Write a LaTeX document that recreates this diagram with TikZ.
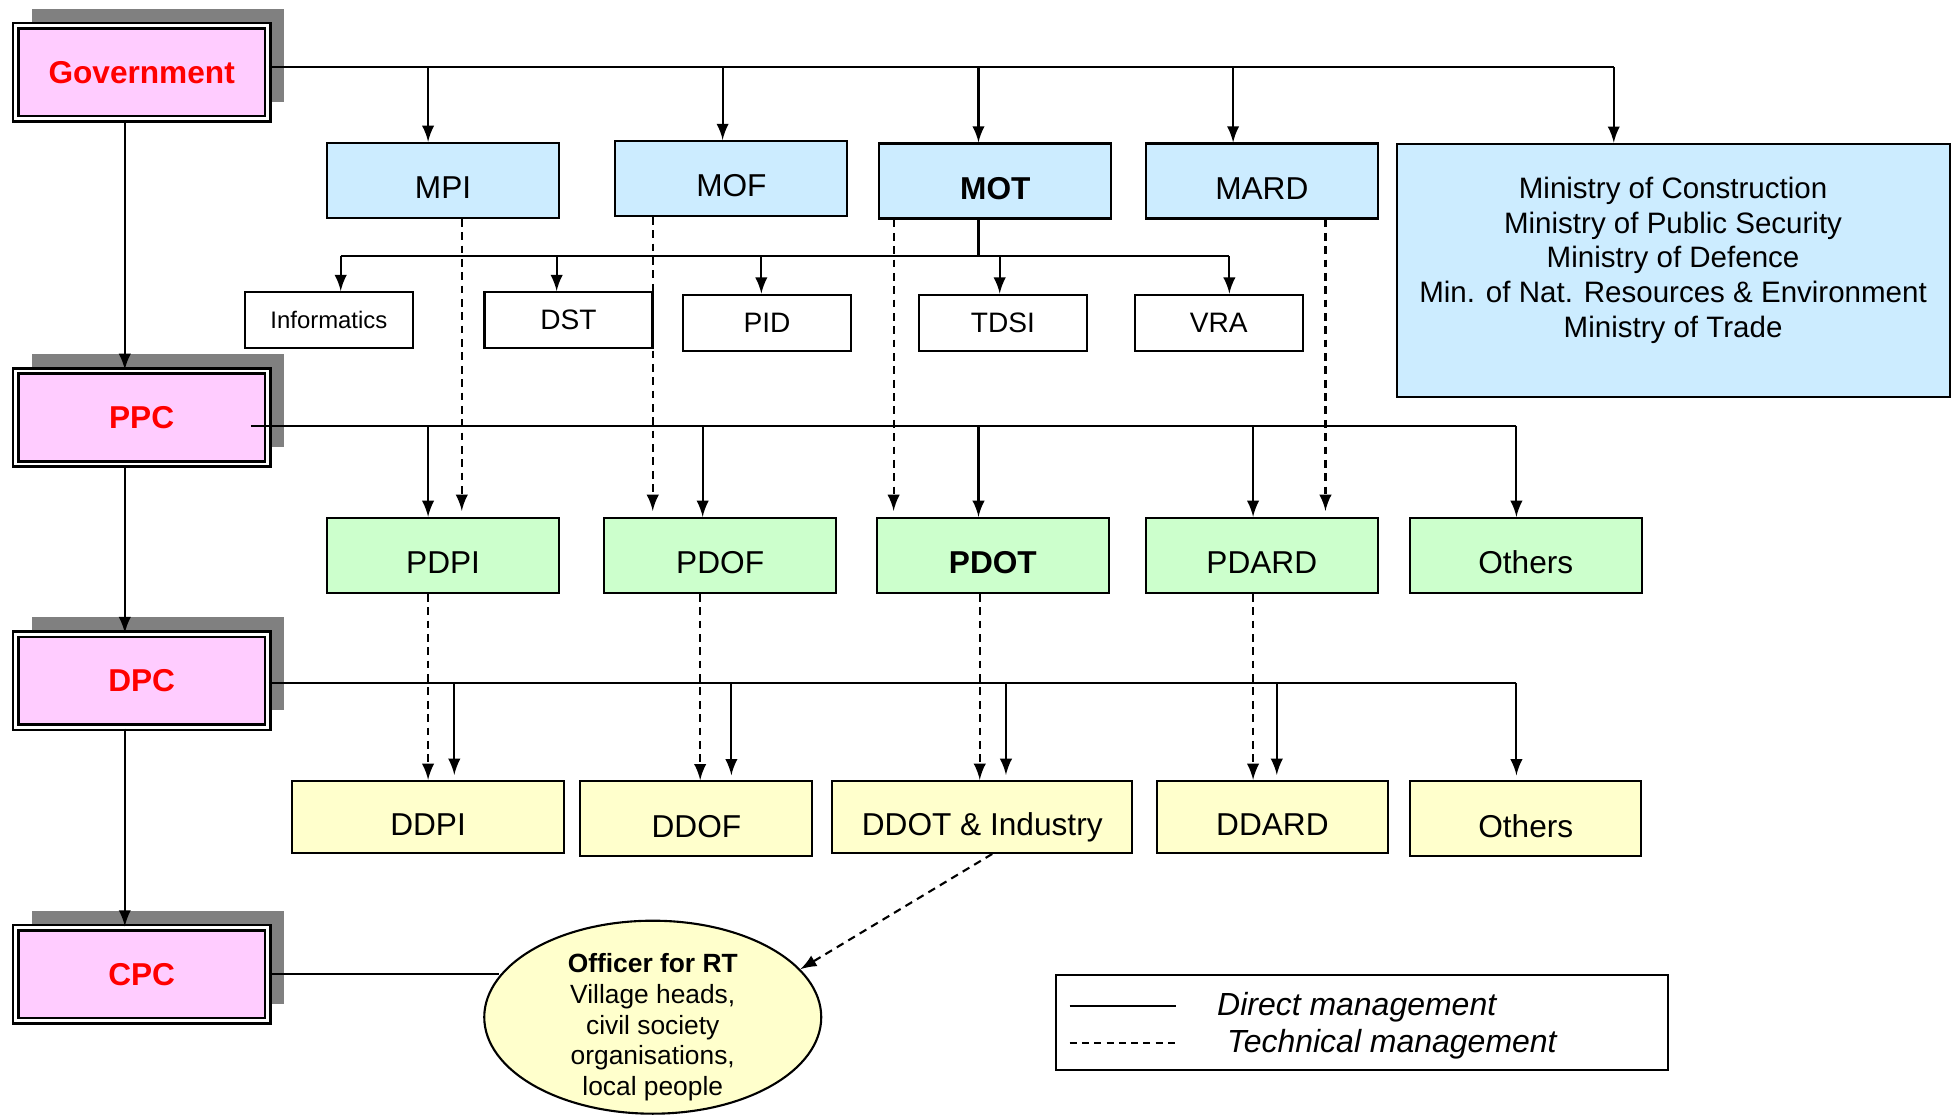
\documentclass[tikz,border=0pt]{standalone}
\usepackage{fontspec}
\setmainfont{Liberation Sans}
\usetikzlibrary{shapes.geometric}
\definecolor{govpink}{HTML}{FFCCFF}
\definecolor{minblue}{HTML}{CCECFF}
\definecolor{provgreen}{HTML}{CCFFCC}
\definecolor{distyellow}{HTML}{FFFFCC}
\definecolor{shadowgray}{HTML}{808080}

\begin{document}
\begin{tikzpicture}[>=latex, x=0.01248cm, y=-0.01248cm, line width=0.6pt,
	level/.style={draw, line width=0.7pt, double=white, double distance=0.8pt, fill=govpink,
		minimum width=2.52cm, minimum height=0.93cm, inner sep=0pt, text=red,
		font=\fontsize{9}{11}\selectfont\bfseries,
		preaction={fill=shadowgray, transform canvas={xshift=0.16cm, yshift=0.17cm}}},
	minbox/.style={draw, line width=0.6pt, fill=minblue, minimum width=2.32cm, minimum height=0.75cm,
		inner sep=0pt, text height=10.5pt, text depth=0pt, font=\fontsize{9}{11}\selectfont},
	subbox/.style={draw, line width=0.6pt, fill=white, minimum width=1.68cm, minimum height=0.56cm,
		inner sep=0pt, font=\fontsize{8}{10}\selectfont},
	provbox/.style={draw, line width=0.6pt, fill=provgreen, minimum width=2.32cm, minimum height=0.75cm,
		inner sep=0pt, text height=10.5pt, text depth=0pt, font=\fontsize{9}{11}\selectfont},
	distbox/.style={draw, line width=0.6pt, fill=distyellow, minimum height=0.72cm,
		inner sep=0pt, text height=10.5pt, text depth=0pt, font=\fontsize{9}{11}\selectfont},
	tech/.style={dash pattern=on 2.2pt off 1.6pt}]
	%%% Bounding box
	\useasboundingbox (0,0) rectangle (1568,893);
	%%% Levels
	\node[level] (gov) at (113.5,58) {Government};
	\node[level] (ppc) at (113.5,334.5) {PPC};
	\node[level] (dpc) at (113.5,545.5) {DPC};
	\node[level] (cpc) at (113.5,780.5) {CPC};
	%%% Ministries
	\node[minbox] (mpi) at (355,144.5) {MPI};
	\node[minbox] (mof) at (586,143) {MOF};
	\node[minbox, font=\fontsize{9}{11}\selectfont\bfseries] (mot) at (797.5,145) {MOT};
	\node[minbox] (mard) at (1011,145) {MARD};
	\node[minbox, minimum width=5.53cm, minimum height=2.53cm] (moc) at (1340.5,216.5) {};
	\node[align=center, font=\fontsize{8.4}{9.9}\selectfont] (moctext) at (1340.5,208.5)
		{Ministry of Construction\\Ministry of Public Security\\Ministry of Defence\\
		Min. of Nat. Resources \& Environment\\Ministry of Trade};
	%%% MOT agencies
	\node[subbox, font=\fontsize{6.8}{8}\selectfont] (info) at (263.5,256.5) {Informatics};
	\node[subbox] (dst) at (455.5,256.5) {DST};
	\node[subbox] (pid) at (614.5,258.5) {PID};
	\node[subbox] (tdsi) at (803.5,258.5) {TDSI};
	\node[subbox] (vra) at (976.5,258.5) {VRA};
	%%% Provincial departments
	\node[provbox] (pdpi) at (355,445) {PDPI};
	\node[provbox] (pdof) at (577,445) {PDOF};
	\node[provbox, font=\fontsize{9}{11}\selectfont\bfseries] (pdot) at (795.5,445) {PDOT};
	\node[provbox] (pdard) at (1011,445) {PDARD};
	\node[provbox] (pothers) at (1222.5,445) {Others};
	%%% District departments
	\node[distbox, minimum width=2.72cm] (ddpi) at (343,654.5) {DDPI};
	\node[distbox, minimum width=2.32cm, minimum height=0.75cm] (ddof) at (558,656) {DDOF};
	\node[distbox, minimum width=3.00cm] (ddot) at (787,654.5) {DDOT \& Industry};
	\node[distbox, minimum width=2.31cm] (ddard) at (1019.5,654.5) {DDARD};
	\node[distbox, minimum width=2.31cm, minimum height=0.75cm] (dothers) at (1222.5,656) {Others};
	%%% Commune officer
	\node[ellipse, draw, line width=0.6pt, fill=distyellow, minimum width=3.37cm, minimum height=1.93cm,
		inner sep=0pt] (officer) at (523,815) {};
	\node[align=center, font=\fontsize{7.5}{8.7}\selectfont] (officertext) at (523,823)
		{\textbf{Officer for RT}\\Village heads,\\civil society\\organisations,\\local people};
	%%% Direct management
	\coordinate (govend) at (1293,54);
	\draw (gov.east |- govend) -- (govend);
	\foreach \n/\x in {mpi/343, mof/579, mot/784, mard/988, moc/1293}
		\draw[->] (\x,54) -- (\n.north -| \x,0);
	\coordinate (motleft) at (273,205);
	\coordinate (motright) at (985,205);
	\draw (mot.south -| 784,0) -- (784,205);
	\draw (motleft) -- (motright);
	\foreach \n/\x in {info/273, dst/446, pid/610, tdsi/801, vra/985}
		\draw[->] (\x,205) -- (\n.north -| \x,0);
	\draw[->] (gov.south -| 100,0) -- (ppc.north -| 100,0);
	\draw[->] (ppc.south -| 100,0) -- (dpc.north -| 100,0);
	\draw[->] (dpc.south -| 100,0) -- (cpc.north -| 100,0);
	\coordinate (ppcstart) at (201,341);
	\coordinate (ppcend) at (1215,341);
	\draw (ppcstart) -- (ppcend);
	\foreach \n/\x in {pdpi/343, pdof/563, pdot/784, pdard/1004, pothers/1215}
		\draw[->] (\x,341) -- (\n.north -| \x,0);
	\coordinate (dpcend) at (1215,547);
	\draw (dpc.east |- dpcend) -- (dpcend);
	\foreach \n/\x in {ddpi/364, ddof/586, ddot/806, ddard/1023, dothers/1215}
		\draw[->, shorten >=1.4pt] (\x,547) -- (\n.north -| \x,0);
	\draw (cpc.east) -- (cpc.east -| officer.165);
	%%% Technical management
	\foreach \from/\to/\x in {mpi/pdpi/370, mof/pdof/523, mot/pdot/716, mard/pdard/1062}
		\draw[tech, ->, shorten >=1.7pt] (\from.south -| \x,0) -- (\to.north -| \x,0);
	\foreach \from/\to/\x in {pdpi/ddpi/343, pdof/ddof/561, pdot/ddot/785, pdard/ddard/1004}
		\draw[tech, ->] (\from.south -| \x,0) -- (\to.north -| \x,0);
	\draw[tech, ->] (ddot.south -| 795,0) -- (officer.18);
	%%% Legend
	\node[draw, line width=0.6pt, minimum width=6.12cm, minimum height=0.95cm] (legend) at (1091,819) {};
	\draw (857,806) -- (942,806);
	\draw[dash pattern=on 2pt off 1.5pt] (857,836) -- (942,836);
	\node[anchor=west, font=\fontsize{9.1}{11}\selectfont\itshape] (ldirect) at (965,807) {Direct management};
	\node[anchor=west, font=\fontsize{9.1}{11}\selectfont\itshape] (ltech) at (973,837) {Technical management};
\end{tikzpicture}
\end{document}
